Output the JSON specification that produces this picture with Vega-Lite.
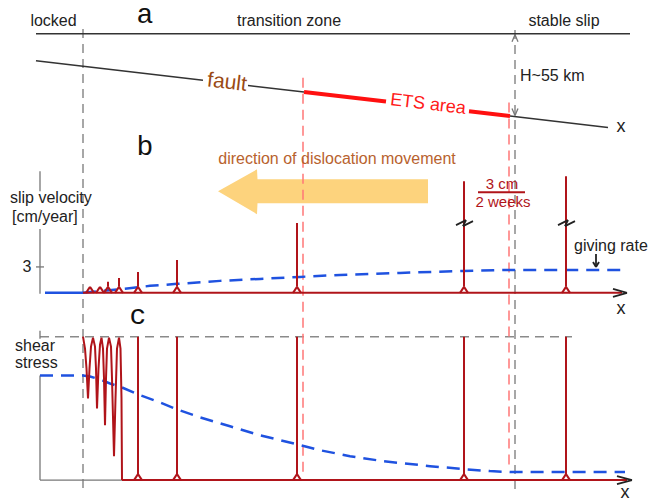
{
  "$schema": "https://vega.github.io/schema/vega-lite/v6.json",
  "width": 649,
  "height": 502,
  "padding": 0,
  "autosize": {"type": "fit", "contains": "padding"},
  "config": {"view": {"stroke": null}},
  "background": "white",
  "datasets": {
    "blackSeg": [
      {"x": 36, "y": 34, "x2": 630, "y2": 34},
      {"x": 36, "y": 61, "x2": 203, "y2": 80.6},
      {"x": 248, "y": 85.8, "x2": 304, "y2": 92.4},
      {"x": 510, "y": 116.5, "x2": 608, "y2": 128}
    ],
    "graySeg": [
      {"x": 40, "y": 172, "x2": 40, "y2": 192},
      {"x": 40, "y": 230, "x2": 40, "y2": 295},
      {"x": 36, "y": 268, "x2": 44, "y2": 268},
      {"x": 40, "y": 332, "x2": 40, "y2": 340},
      {"x": 40, "y": 377, "x2": 40, "y2": 482},
      {"x": 40, "y": 482, "x2": 122, "y2": 482},
      {"x": 512, "y": 42, "x2": 515, "y2": 35},
      {"x": 515, "y": 35, "x2": 518, "y2": 42},
      {"x": 512, "y": 109, "x2": 515, "y2": 116},
      {"x": 515, "y": 116, "x2": 518, "y2": 109}
    ],
    "grayDash": [
      {"x": 83, "y": 29, "x2": 83, "y2": 492},
      {"x": 515, "y": 30, "x2": 515, "y2": 492},
      {"x": 40, "y": 338, "x2": 572, "y2": 338}
    ],
    "redDash": [
      {"x": 303, "y": 78, "x2": 303, "y2": 475},
      {"x": 509, "y": 103, "x2": 509, "y2": 467}
    ],
    "redThick": [
      {"x": 304, "y": 92.4, "x2": 386, "y2": 102},
      {"x": 469, "y": 111.7, "x2": 510, "y2": 116.5}
    ],
    "darkRed": [
      {"x": 83, "y": 294, "x2": 622, "y2": 294},
      {"x": 122, "y": 482, "x2": 627, "y2": 482},
      {"x": 108, "y": 288, "x2": 108, "y2": 283},
      {"x": 119, "y": 288, "x2": 119, "y2": 279},
      {"x": 138, "y": 288, "x2": 138, "y2": 273},
      {"x": 177, "y": 288, "x2": 177, "y2": 261},
      {"x": 297, "y": 288, "x2": 297, "y2": 224},
      {"x": 464, "y": 288, "x2": 464, "y2": 182},
      {"x": 566, "y": 288, "x2": 566, "y2": 177},
      {"x": 138, "y": 476, "x2": 138, "y2": 338},
      {"x": 177, "y": 476, "x2": 177, "y2": 338},
      {"x": 297, "y": 476, "x2": 297, "y2": 338},
      {"x": 464, "y": 476, "x2": 464, "y2": 338},
      {"x": 566, "y": 476, "x2": 566, "y2": 338},
      {"x": 478, "y": 193, "x2": 525, "y2": 193},
      {"x": 86, "y": 294, "x2": 90, "y2": 288}, {"x": 90, "y": 288, "x2": 94, "y2": 294},
      {"x": 96, "y": 294, "x2": 100, "y2": 288}, {"x": 100, "y": 288, "x2": 104, "y2": 294},
      {"x": 104, "y": 294, "x2": 108, "y2": 288}, {"x": 108, "y": 288, "x2": 112, "y2": 294},
      {"x": 115, "y": 294, "x2": 119, "y2": 288}, {"x": 119, "y": 288, "x2": 123, "y2": 294},
      {"x": 134, "y": 294, "x2": 138, "y2": 288}, {"x": 138, "y": 288, "x2": 142, "y2": 294},
      {"x": 173, "y": 294, "x2": 177, "y2": 288}, {"x": 177, "y": 288, "x2": 181, "y2": 294},
      {"x": 293, "y": 294, "x2": 297, "y2": 288}, {"x": 297, "y": 288, "x2": 301, "y2": 294},
      {"x": 460, "y": 294, "x2": 464, "y2": 288}, {"x": 464, "y": 288, "x2": 468, "y2": 294},
      {"x": 562, "y": 294, "x2": 566, "y2": 288}, {"x": 566, "y": 288, "x2": 570, "y2": 294},
      {"x": 134, "y": 482, "x2": 138, "y2": 476}, {"x": 138, "y": 476, "x2": 142, "y2": 482},
      {"x": 173, "y": 482, "x2": 177, "y2": 476}, {"x": 177, "y": 476, "x2": 181, "y2": 482},
      {"x": 293, "y": 482, "x2": 297, "y2": 476}, {"x": 297, "y": 476, "x2": 301, "y2": 482},
      {"x": 460, "y": 482, "x2": 464, "y2": 476}, {"x": 464, "y": 476, "x2": 468, "y2": 482},
      {"x": 562, "y": 482, "x2": 566, "y2": 476}, {"x": 566, "y": 476, "x2": 570, "y2": 482}
    ],
    "blackHeads": [
      {"x": 613, "y": 290, "x2": 627, "y2": 294},
      {"x": 627, "y": 294, "x2": 613, "y2": 298},
      {"x": 617, "y": 478, "x2": 632, "y2": 482},
      {"x": 632, "y": 482, "x2": 617, "y2": 486},
      {"x": 596, "y": 255, "x2": 596, "y2": 268},
      {"x": 593, "y": 263, "x2": 596, "y2": 268},
      {"x": 596, "y": 268, "x2": 599, "y2": 263},
      {"x": 456, "y": 226, "x2": 466, "y2": 221},
      {"x": 466, "y": 221, "x2": 463, "y2": 227},
      {"x": 463, "y": 227, "x2": 473, "y2": 222},
      {"x": 558, "y": 226, "x2": 568, "y2": 221},
      {"x": 568, "y": 221, "x2": 565, "y2": 227},
      {"x": 565, "y": 227, "x2": 575, "y2": 222}
    ],
    "blueSolid": [
      {"x": 45, "y": 294, "x2": 83, "y2": 294}
    ],
    "blueCurves": [
      {"curve": "b", "x": 83, "y": 294}, {"curve": "b", "x": 103, "y": 292}, {"curve": "b", "x": 125, "y": 290},
      {"curve": "b", "x": 150, "y": 287}, {"curve": "b", "x": 177, "y": 285}, {"curve": "b", "x": 220, "y": 282},
      {"curve": "b", "x": 260, "y": 280}, {"curve": "b", "x": 300, "y": 278}, {"curve": "b", "x": 340, "y": 276},
      {"curve": "b", "x": 400, "y": 274}, {"curve": "b", "x": 463, "y": 272}, {"curve": "b", "x": 510, "y": 271},
      {"curve": "b", "x": 623, "y": 271},
      {"curve": "c", "x": 40, "y": 377}, {"curve": "c", "x": 83, "y": 377}, {"curve": "c", "x": 90, "y": 378},
      {"curve": "c", "x": 100, "y": 381}, {"curve": "c", "x": 110, "y": 385}, {"curve": "c", "x": 122, "y": 389},
      {"curve": "c", "x": 138, "y": 396}, {"curve": "c", "x": 160, "y": 404}, {"curve": "c", "x": 177, "y": 411},
      {"curve": "c", "x": 200, "y": 419}, {"curve": "c", "x": 230, "y": 428}, {"curve": "c", "x": 260, "y": 437},
      {"curve": "c", "x": 297, "y": 446}, {"curve": "c", "x": 320, "y": 452}, {"curve": "c", "x": 350, "y": 458},
      {"curve": "c", "x": 383, "y": 463}, {"curve": "c", "x": 430, "y": 468}, {"curve": "c", "x": 464, "y": 471},
      {"curve": "c", "x": 490, "y": 473}, {"curve": "c", "x": 510, "y": 474}, {"curve": "c", "x": 625, "y": 474}
    ],
    "stress": [
      {"x": 83, "y": 338}, {"x": 85, "y": 350}, {"x": 86.5, "y": 370}, {"x": 88, "y": 400},
      {"x": 89.5, "y": 370}, {"x": 91, "y": 348}, {"x": 93, "y": 339}, {"x": 95, "y": 348},
      {"x": 96, "y": 370}, {"x": 97, "y": 410}, {"x": 98.5, "y": 370}, {"x": 100, "y": 346},
      {"x": 101.5, "y": 339}, {"x": 103, "y": 350}, {"x": 104, "y": 380}, {"x": 105, "y": 427},
      {"x": 106, "y": 380}, {"x": 107, "y": 350}, {"x": 109, "y": 339}, {"x": 111, "y": 348},
      {"x": 112, "y": 380}, {"x": 114, "y": 458}, {"x": 115.5, "y": 400}, {"x": 117, "y": 350},
      {"x": 119, "y": 339}, {"x": 120.5, "y": 350}, {"x": 121.5, "y": 400}, {"x": 122, "y": 482}
    ],
    "arrow": [
      {"x": 218, "y": 192, "y2": 192},
      {"x": 257, "y": 170, "y2": 215},
      {"x": 257.5, "y": 180, "y2": 204},
      {"x": 428, "y": 180, "y2": 204}
    ],
    "textCenter": [
      {"x": 53.5, "y": 26.5, "t": "locked"},
      {"x": 289, "y": 26.5, "t": "transition zone"},
      {"x": 564, "y": 26, "t": "stable slip"},
      {"x": 27, "y": 273, "t": "3"}
    ],
    "textLeft": [
      {"x": 520, "y": 81, "t": "H~55 km"},
      {"x": 10, "y": 204, "t": "slip velocity"},
      {"x": 12, "y": 223, "t": "[cm/year]"},
      {"x": 574, "y": 252, "t": "giving rate"},
      {"x": 15, "y": 352, "t": "shear"},
      {"x": 15, "y": 369, "t": "stress"}
    ],
    "xLabels": [
      {"x": 621, "y": 133, "t": "x"},
      {"x": 621, "y": 315, "t": "x"},
      {"x": 625, "y": 500, "t": "x"}
    ],
    "panelLetters": [
      {"x": 145, "y": 23, "t": "a"},
      {"x": 145, "y": 156, "t": "b"},
      {"x": 138, "y": 325, "t": "c"}
    ],
    "fault": [{"x": 227, "y": 83, "t": "fault"}],
    "ets": [{"x": 428, "y": 105, "t": "ETS area"}],
    "direction": [{"x": 337, "y": 165, "t": "direction of dislocation movement"}],
    "fraction": [
      {"x": 502, "y": 190, "t": "3 cm"},
      {"x": 503, "y": 208, "t": "2 weeks"}
    ]
  },
  "encoding": {
    "x": {"field": "x", "type": "quantitative", "scale": {"domain": [0, 649], "nice": false, "zero": false}, "axis": null},
    "y": {"field": "y", "type": "quantitative", "scale": {"domain": [0, 502], "nice": false, "zero": false, "reverse": true}, "axis": null}
  },
  "layer": [
    {
      "data": {"name": "arrow"},
      "mark": {"type": "area", "color": "#fdd37d", "opacity": 1},
      "encoding": {"y2": {"field": "y2"}}
    },
    {
      "data": {"name": "grayDash"},
      "mark": {"type": "rule", "color": "#8a8a8a", "strokeWidth": 1.5, "strokeDash": [9, 6]},
      "encoding": {"x2": {"field": "x2"}, "y2": {"field": "y2"}}
    },
    {
      "data": {"name": "redDash"},
      "mark": {"type": "rule", "color": "#ff7777", "strokeWidth": 1.5, "strokeDash": [10, 6]},
      "encoding": {"x2": {"field": "x2"}, "y2": {"field": "y2"}}
    },
    {
      "data": {"name": "graySeg"},
      "mark": {"type": "rule", "color": "#777777", "strokeWidth": 1.3},
      "encoding": {"x2": {"field": "x2"}, "y2": {"field": "y2"}}
    },
    {
      "data": {"name": "blackSeg"},
      "mark": {"type": "rule", "color": "#333333", "strokeWidth": 1.5},
      "encoding": {"x2": {"field": "x2"}, "y2": {"field": "y2"}}
    },
    {
      "data": {"name": "redThick"},
      "mark": {"type": "rule", "color": "#ff1010", "strokeWidth": 4},
      "encoding": {"x2": {"field": "x2"}, "y2": {"field": "y2"}}
    },
    {
      "data": {"name": "blueSolid"},
      "mark": {"type": "rule", "color": "#1f52e0", "strokeWidth": 2.5},
      "encoding": {"x2": {"field": "x2"}, "y2": {"field": "y2"}}
    },
    {
      "data": {"name": "blueCurves"},
      "mark": {"type": "line", "color": "#1f52e0", "strokeWidth": 2.5, "strokeDash": [13, 8]},
      "encoding": {"detail": {"field": "curve"}}
    },
    {
      "data": {"name": "darkRed"},
      "mark": {"type": "rule", "color": "#b0141a", "strokeWidth": 2},
      "encoding": {"x2": {"field": "x2"}, "y2": {"field": "y2"}}
    },
    {
      "data": {"name": "stress"},
      "mark": {"type": "line", "color": "#b0141a", "strokeWidth": 2}
    },
    {
      "data": {"name": "blackHeads"},
      "mark": {"type": "rule", "color": "#222222", "strokeWidth": 1.8},
      "encoding": {"x2": {"field": "x2"}, "y2": {"field": "y2"}}
    },
    {
      "data": {"name": "textCenter"},
      "mark": {"type": "text", "font": "Liberation Sans", "fontSize": 16, "color": "#222222", "align": "center", "baseline": "alphabetic"},
      "encoding": {"text": {"field": "t"}}
    },
    {
      "data": {"name": "textLeft"},
      "mark": {"type": "text", "font": "Liberation Sans", "fontSize": 16, "color": "#222222", "align": "left", "baseline": "alphabetic"},
      "encoding": {"text": {"field": "t"}}
    },
    {
      "data": {"name": "xLabels"},
      "mark": {"type": "text", "font": "Liberation Sans", "fontSize": 18, "color": "#222222", "align": "center", "baseline": "alphabetic"},
      "encoding": {"text": {"field": "t"}}
    },
    {
      "data": {"name": "panelLetters"},
      "mark": {"type": "text", "font": "Liberation Mono", "fontSize": 28, "color": "#111111", "align": "center", "baseline": "alphabetic"},
      "encoding": {"text": {"field": "t"}}
    },
    {
      "data": {"name": "fault"},
      "mark": {"type": "text", "font": "Liberation Sans", "fontSize": 21, "color": "#9a4a14", "align": "center", "baseline": "middle", "angle": 6.7},
      "encoding": {"text": {"field": "t"}}
    },
    {
      "data": {"name": "ets"},
      "mark": {"type": "text", "font": "Liberation Sans", "fontSize": 18, "color": "#ff1a1a", "align": "center", "baseline": "middle", "angle": 6.7},
      "encoding": {"text": {"field": "t"}}
    },
    {
      "data": {"name": "direction"},
      "mark": {"type": "text", "font": "Liberation Sans", "fontSize": 16, "color": "#b8622e", "align": "center", "baseline": "alphabetic"},
      "encoding": {"text": {"field": "t"}}
    },
    {
      "data": {"name": "fraction"},
      "mark": {"type": "text", "font": "Liberation Sans", "fontSize": 15, "color": "#b0141a", "align": "center", "baseline": "alphabetic"},
      "encoding": {"text": {"field": "t"}}
    }
  ]
}
